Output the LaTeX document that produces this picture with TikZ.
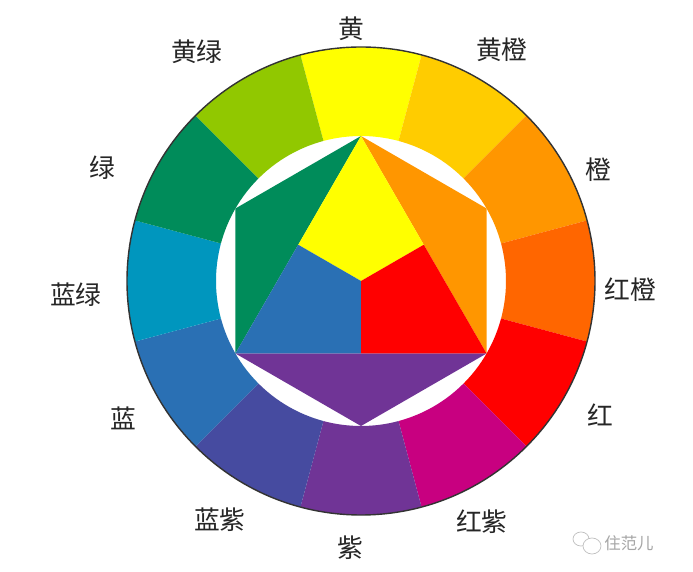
\documentclass[tikz,border=0pt]{standalone}
\usepackage{fontspec}
\newfontfamily\cjk{Noto Sans CJK SC}
\usetikzlibrary{calc}
% ring colours, clockwise from the top
\definecolor{cY}{RGB}{255,255,0}
\definecolor{cYO}{RGB}{255,204,0}
\definecolor{cO}{RGB}{255,150,0}
\definecolor{cRO}{RGB}{255,102,0}
\definecolor{cR}{RGB}{255,0,0}
\definecolor{cRV}{RGB}{200,0,128}
\definecolor{cV}{RGB}{112,52,150}
\definecolor{cBV}{RGB}{70,75,160}
\definecolor{cB}{RGB}{42,112,180}
\definecolor{cBG}{RGB}{0,150,190}
\definecolor{cG}{RGB}{0,140,90}
\definecolor{cYG}{RGB}{145,200,0}

\begin{document}
\begin{tikzpicture}[x=0.03cm,y=0.03cm,
  lbl/.style={font=\cjk\fontsize{22}{22}\selectfont, text=black!85},
  wmtext/.style={font=\cjk\fontsize{14}{14}\selectfont, text=black!35}]
\useasboundingbox[fill=white] (-361,-291) rectangle (332,281);

% outer ring
\foreach \c [count=\i from 0, evaluate=\i as \a using 105-30*\i] in {cY,cYO,cO,cRO,cR,cRV,cV,cBV,cB,cBG,cG,cYG}
  \fill[\c] (\a:145) -- (\a:234) arc[start angle=\a, end angle=\a-30, radius=234]
    -- (\a-30:145) arc[start angle=\a-30, end angle=\a, radius=145] -- cycle;
\draw[black!80, line width=1.2pt] (0,0) circle[radius=234];

% hexagon
\coordinate (O) at (0,0);
\coordinate (T) at (90:145);
\coordinate (UL) at (150:145);
\coordinate (LL) at (210:145);
\coordinate (B) at (270:145);
\coordinate (LR) at (330:145);
\coordinate (UR) at (30:145);
\coordinate (mL) at ($(T)!0.5!(LL)$);
\coordinate (mR) at ($(T)!0.5!(LR)$);
\coordinate (mB) at ($(LL)!0.5!(LR)$);

\fill[cG] (T) -- (UL) -- (LL) -- cycle;
\fill[cO] (T) -- (UR) -- (LR) -- cycle;
\fill[cV] (LL) -- (B) -- (LR) -- cycle;
\fill[cY] (T) -- (mR) -- (O) -- (mL) -- cycle;
\fill[cR] (O) -- (mR) -- (LR) -- (mB) -- cycle;
\fill[cB] (O) -- (mB) -- (LL) -- (mL) -- cycle;

% labels
\node[lbl] (lY) at (-10,252) {黄};
\node[lbl] (lYO) at (141,231) {黄橙};
\node[lbl] (lO) at (237,111) {橙};
\node[lbl] (lRO) at (269,-9) {红橙};
\node[lbl] (lR) at (239,-134) {红};
\node[lbl] (lRV) at (121,-241) {红紫};
\node[lbl] (lV) at (-11,-267) {紫};
\node[lbl] (lBV) at (-141,-239) {蓝紫};
\node[lbl] (lB) at (-238,-137) {蓝};
\node[lbl] (lBG) at (-285,-14) {蓝绿};
\node[lbl] (lG) at (-259,113) {绿};
\node[lbl] (lYG) at (-164,229) {黄绿};

% watermark
\draw[black!25, line width=0.6pt] (220,-258) ellipse[x radius=8, y radius=7];
\draw[black!25, line width=0.6pt, fill=white] (231,-265) ellipse[x radius=9, y radius=8];
\node[wmtext] (wm) at (268,-262) {住范儿};
\end{tikzpicture}
\end{document}
